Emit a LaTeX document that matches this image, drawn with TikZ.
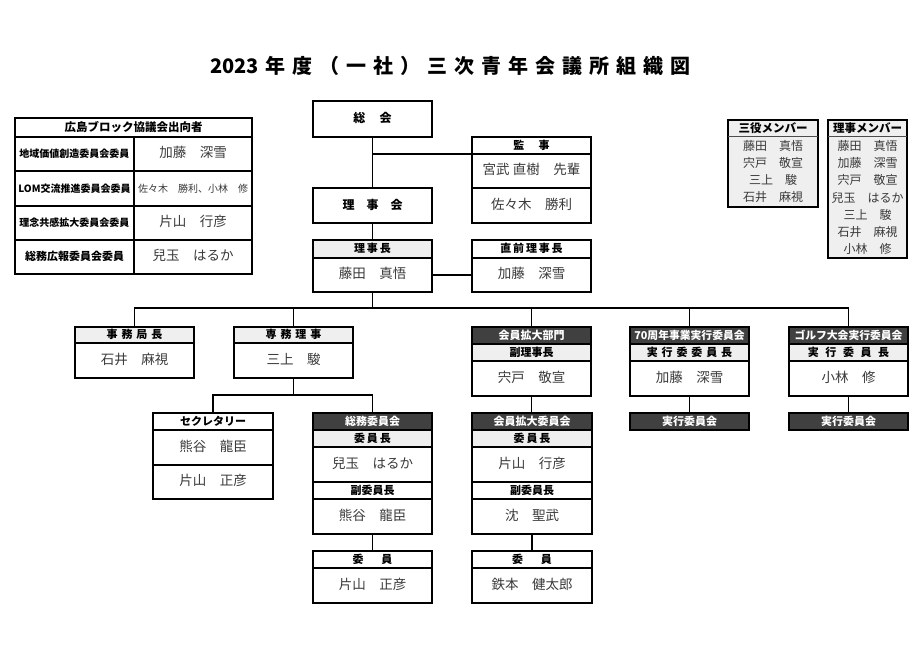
\documentclass[tikz,border=0pt]{standalone}
\usepackage{fontspec}
\setmainfont{Noto Sans CJK JP}
\usetikzlibrary{fit}
\definecolor{dk}{HTML}{404040}
\definecolor{lt}{HTML}{EFEFEF}
\definecolor{nmc}{HTML}{3A3A3A}
\newcommand\seg[5]{\node[#1,fit={#2 #3}] (#4) {};
  \node[#1, draw=none, fill=none, text height=0.88em, text depth=0.12em, anchor=center] (#4-t) at (#4.center) {#5};}
\newcommand\fs[2]{\fontsize{#1}{#2}\selectfont}
\newcommand\gp{\hspace{0.35em}}
\newcommand\tg{\hspace{7pt}}
\tikzset{
  bx/.style={draw, line width=1.7pt, fill=white, inner sep=0pt, outer sep=0pt},
  hw/.style={bx, font=\fs{11}{13}\bfseries},
  hl/.style={hw, fill=lt},
  hd/.style={bx, fill=dk, text=white, font=\fs{11}{13}\bfseries},
  nm/.style={bx, text=nmc, font=\fs{13.5}{16}},
  lab/.style={bx, font=\fs{10}{12}\bfseries},
  mem/.style={text=nmc, font=\fs{12}{17.2}, align=center, inner sep=0pt},
  memh/.style={font=\fs{11.5}{13}\bfseries, inner sep=0pt},
  ln/.style={line width=1.7pt},
  thinln/.style={line width=0.8pt, black!70},
}
\begin{document}
\begin{tikzpicture}[x=1pt,y=-1pt]
\useasboundingbox (0,0) rectangle (923,657);
% title
\node[font=\fs{20}{24}\bfseries] (title) at (450.5,66) {2023\tg 年\tg 度\tg （\tg 一\tg 社\tg ）\tg 三\tg 次\tg 青\tg 年\tg 会\tg 議\tg 所\tg 組\tg 織\tg 図};

% left table
\seg{bx}{(15,118)}{(252,274)}{hiro}{}
\seg{hw, font=\fs{11.5}{13}\bfseries}{(15,118)}{(252,137)}{hiro-h}{広島ブロック協議会出向者}
\seg{lab}{(15,137)}{(134,171)}{hiro-l1}{地域価値創造委員会委員}
\seg{nm}{(134,137)}{(252,171)}{hiro-v1}{加藤　深雪}
\seg{lab}{(15,171)}{(134,206)}{hiro-l2}{LOM交流推進委員会委員}
\seg{nm, font=\fs{10}{12}}{(134,171)}{(252,206)}{hiro-v2}{佐々木　勝利、小林　修}
\seg{lab}{(15,206)}{(134,240)}{hiro-l3}{理念共感拡大委員会委員}
\seg{nm}{(134,206)}{(252,240)}{hiro-v3}{片山　行彦}
\seg{lab, font=\fs{11}{13}\bfseries}{(15,240)}{(134,274)}{hiro-l4}{総務広報委員会委員}
\seg{nm}{(134,240)}{(252,274)}{hiro-v4}{兒玉　はるか}

% right member boxes
\coordinate (hdiv) at (0,136.5);
\node[bx, fill=lt, fit={(728,120) (818,207)}] (sanyaku) {};
\node[memh] (sanyaku-h) at (773,128.5) {三役メンバー};
\draw[thinln] (sanyaku.west |- hdiv) -- (sanyaku.east |- hdiv);
\node[mem] (sanyaku-n) at (773,171.5) {藤田　真悟\\宍戸　敬宣\\三上　駿\\石井　麻視};
\node[bx, fill=lt, fit={(828,120) (907,258)}] (riji) {};
\node[memh] (riji-h) at (867.5,128.5) {理事メンバー};
\draw[thinln] (riji.west |- hdiv) -- (riji.east |- hdiv);
\node[mem] (riji-n) at (867.5,197.5) {藤田　真悟\\加藤　深雪\\宍戸　敬宣\\兒玉　はるか\\三上　駿\\石井　麻視\\小林　修};

% top column
\seg{hw, font=\fs{12}{14}\bfseries}{(313,101)}{(432,137)}{sokai}{総\hspace{1.2em}会}
\seg{hw, font=\fs{12}{14}\bfseries}{(313,188)}{(432,223)}{rijikai}{理\hspace{1em}事\hspace{1em}会}
\seg{bx}{(313,240)}{(432,292)}{rijicho}{}
\seg{hl}{(313,240)}{(432,258)}{rijicho-h}{理\,事\,長}
\seg{nm}{(313,258)}{(432,292)}{rijicho-n}{藤田　真悟}

\seg{bx}{(472,137)}{(591,223)}{kanji}{}
\seg{hw}{(472,137)}{(591,154)}{kanji-h}{監\hspace{1.3em}事}
\seg{nm}{(472,154)}{(591,188)}{kanji-a}{宮武 直樹　先輩}
\seg{nm}{(472,188)}{(591,223)}{kanji-b}{佐々木　勝利}

\seg{bx}{(472,240)}{(591,292)}{zen}{}
\seg{hw}{(472,240)}{(591,258)}{zen-h}{直\,前\,理\,事\,長}
\seg{nm}{(472,258)}{(591,292)}{zen-n}{加藤　深雪}

% second row
\seg{bx}{(75,327)}{(194,378)}{jimu}{}
\seg{hl}{(75,327)}{(194,343)}{jimu-h}{事\gp 務\gp 局\gp 長}
\seg{nm}{(75,343)}{(194,378)}{jimu-n}{石井　麻視}

\seg{bx}{(234,327)}{(353,378)}{senmu}{}
\seg{hl}{(234,327)}{(353,343)}{senmu-h}{専\gp 務\gp 理\gp 事}
\seg{nm}{(234,343)}{(353,378)}{senmu-n}{三上　駿}

\seg{bx}{(472,327)}{(591,396)}{bumon}{}
\seg{hd}{(472,327)}{(591,344)}{bumon-d}{会員拡大部門}
\seg{hl}{(472,344)}{(591,361)}{bumon-h}{副理事長}
\seg{nm}{(472,361)}{(591,396)}{bumon-n}{宍戸　敬宣}

\seg{bx}{(630,327)}{(749,396)}{nanaju}{}
\seg{hd, font=\fs{10.8}{13}\bfseries}{(630,327)}{(749,344)}{nanaju-d}{70周年事業実行委員会}
\seg{hl}{(630,344)}{(749,361)}{nanaju-h}{実\gp 行\gp 委\gp 委\gp 員\gp 長}
\seg{nm}{(630,361)}{(749,396)}{nanaju-n}{加藤　深雪}

\seg{bx}{(789,327)}{(908,396)}{golf}{}
\seg{hd, font=\fs{10.8}{13}\bfseries}{(789,327)}{(908,344)}{golf-d}{ゴルフ大会実行委員会}
\seg{hl}{(789,344)}{(908,361)}{golf-h}{実\hspace{0.6em}行\hspace{0.6em}委\hspace{0.6em}員\hspace{0.6em}長}
\seg{nm}{(789,361)}{(908,396)}{golf-n}{小林　修}

% third row
\seg{hd}{(630,413)}{(749,430)}{jikko1}{実行委員会}
\seg{hd}{(789,413)}{(908,430)}{jikko2}{実行委員会}

\seg{bx}{(153,413)}{(273,499)}{sec}{}
\seg{hw}{(153,413)}{(273,430)}{sec-h}{セクレタリー}
\seg{nm}{(153,430)}{(273,465)}{sec-a}{熊谷　龍臣}
\seg{nm}{(153,465)}{(273,499)}{sec-b}{片山　正彦}

\seg{bx}{(313,413)}{(432,534)}{somu}{}
\seg{hd}{(313,413)}{(432,430)}{somu-d}{総務委員会}
\seg{hl}{(313,430)}{(432,447)}{somu-h}{委\,員\,長}
\seg{nm}{(313,447)}{(432,482)}{somu-a}{兒玉　はるか}
\seg{hw}{(313,482)}{(432,499)}{somu-h2}{副委員長}
\seg{nm}{(313,499)}{(432,534)}{somu-b}{熊谷　龍臣}

\seg{bx}{(313,551)}{(432,603)}{somuiin}{}
\seg{hw}{(313,551)}{(432,568)}{somuiin-h}{委\hspace{1.6em}員}
\seg{nm}{(313,568)}{(432,603)}{somuiin-n}{片山　正彦}

\seg{bx}{(472,413)}{(592,534)}{kaiin}{}
\seg{hd}{(472,413)}{(592,430)}{kaiin-d}{会員拡大委員会}
\seg{hl}{(472,430)}{(592,447)}{kaiin-h}{委\,員\,長}
\seg{nm}{(472,447)}{(592,482)}{kaiin-a}{片山　行彦}
\seg{hw}{(472,482)}{(592,499)}{kaiin-h2}{副委員長}
\seg{nm}{(472,499)}{(592,534)}{kaiin-b}{沈　聖武}

\seg{bx}{(472,551)}{(592,603)}{kaiiniin}{}
\seg{hw}{(472,551)}{(592,568)}{kaiiniin-h}{委\hspace{1.6em}員}
\seg{nm}{(472,568)}{(592,603)}{kaiiniin-n}{鉄本　健太郎}

% connectors
\coordinate (bus) at (0,308);
\coordinate (sb) at (0,395);
\draw[ln] (sokai.south) -- (rijikai.north);
\draw[ln] (sokai.south |- kanji-h.south) -- (kanji-h.south west);
\draw[ln] (rijikai.south) -- (rijicho.north);
\draw[ln] (rijicho-n.east) -- (zen-n.west);
\draw[ln] (rijicho.south) -- (rijicho.south |- bus);
\draw[ln] (jimu.north) -- (jimu.north |- bus) -- (golf.north |- bus) -- (golf.north);
\draw[ln] (senmu.north) -- (senmu.north |- bus);
\draw[ln] (bumon.north) -- (bumon.north |- bus);
\draw[ln] (nanaju.north) -- (nanaju.north |- bus);
\draw[ln] (senmu.south) -- (senmu.south |- sb);
\draw[ln] (sec.north) -- (sec.north |- sb) -| (somu.north);
\draw[ln] (bumon.south) -- (kaiin.north -| bumon.south);
\draw[ln] (nanaju.south) -- (jikko1.north);
\draw[ln] (golf.south) -- (jikko2.north);
\draw[ln] (somu.south) -- (somuiin.north);
\draw[ln] (kaiin.south) -- (kaiiniin.north);
\end{tikzpicture}
\end{document}
